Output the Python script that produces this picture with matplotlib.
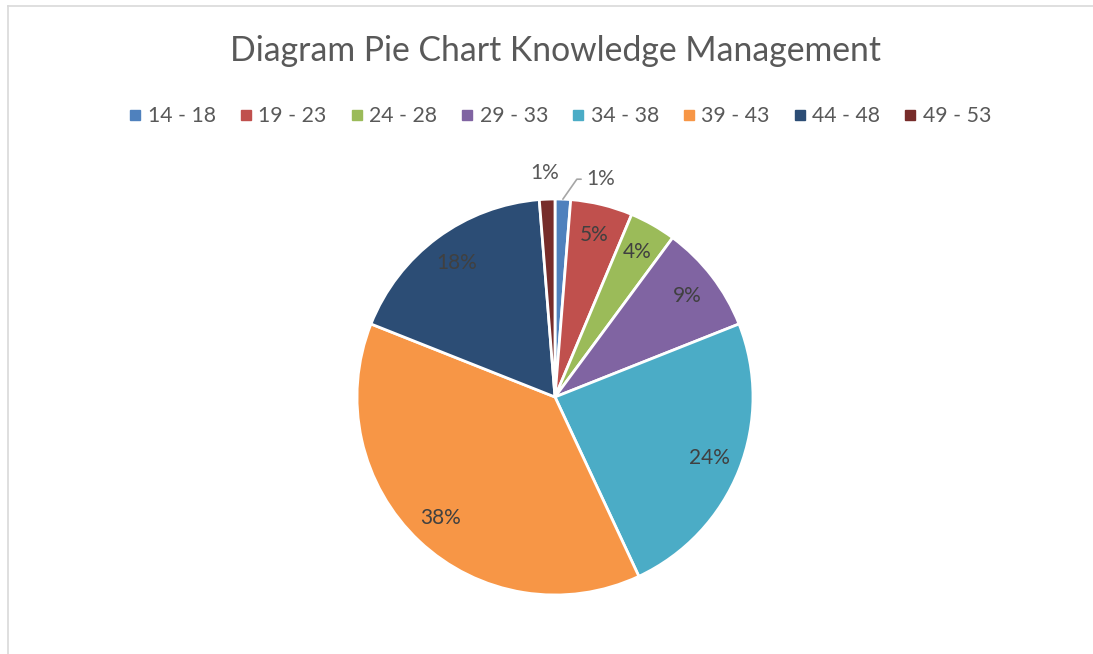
import numpy as np
import matplotlib.pyplot as plt
from matplotlib.lines import Line2D

# age groups and head counts (percentages shown on the slices)
groups = ["14 - 18", "19 - 23", "24 - 28", "29 - 33", "34 - 38", "39 - 43", "44 - 48", "49 - 53"]
counts = [1, 4, 3, 7, 19, 30, 14, 1]
colors = ["#4F81BD", "#C0504D", "#9BBB59", "#8064A2", "#4BACC6", "#F79646", "#2C4D75", "#772C2A"]

plt.rcParams['font.family'] = ['Lato', 'DejaVu Sans']
text_col = "#595959"

fig = plt.figure(figsize=(10.93, 6.54), dpi=100)
W, H = 1093, 654

# pie centre (555, 397) px, radius 198 px
r = 198
ax = fig.add_axes([(555 - r) / W, (H - 397 - r) / H, 2 * r / W, 2 * r / H])
wedges, _ = ax.pie(counts, colors=colors, startangle=90, counterclock=False,
                   wedgeprops=dict(edgecolor="white", linewidth=2))
ax.set_xlim(-1, 1)
ax.set_ylim(-1, 1)
ax.set_aspect("equal")
ax.axis("off")

total = sum(counts)
for i, w in enumerate(wedges):
    pct = "%d%%" % round(counts[i] / total * 100)
    mid = np.deg2rad((w.theta1 + w.theta2) / 2)
    if i == 0:
        edge = (np.cos(mid) * 1.0, np.sin(mid) * 1.0)
        ax.annotate(pct, xy=edge, xytext=(0.16, 1.1), ha="left", va="center",
                    fontsize=15, color=text_col, annotation_clip=False,
                    arrowprops=dict(arrowstyle="-", color="#A6A6A6", lw=1.2,
                                    shrinkA=2, shrinkB=0,
                                    connectionstyle="angle,angleA=0,angleB=55"))
    elif i == len(wedges) - 1:
        ax.text(-0.05, 1.13, pct, ha="center", va="center", fontsize=15,
                color=text_col, clip_on=False)
    else:
        ax.text(np.cos(mid) * 0.84, np.sin(mid) * 0.84, pct, ha="center", va="center",
                fontsize=15, color="#404040")

fig.text(556 / W, 1 - 51 / H, "Diagram Pie Chart Knowledge Management",
         ha="center", va="center", fontsize=24.3, color=text_col)

handles = [Line2D([], [], marker="s", linestyle="none", markersize=7,
                  markerfacecolor=c, markeredgecolor=c) for c in colors]
fig.legend(handles, groups, loc="center", bbox_to_anchor=(560 / W, 1 - 116 / H),
           ncol=8, frameon=False, fontsize=15.3, labelcolor=text_col,
           handlelength=0.6, handletextpad=0.3, columnspacing=1.1)

# thin chart-area border
fig.add_artist(Line2D([8 / W, 1], [1 - 6 / H, 1 - 6 / H], color="#D9D9D9", lw=1.2))
fig.add_artist(Line2D([8 / W, 8 / W], [0, 1 - 6 / H], color="#D9D9D9", lw=1.2))

fig.savefig("out.png", dpi=100, facecolor="white")
